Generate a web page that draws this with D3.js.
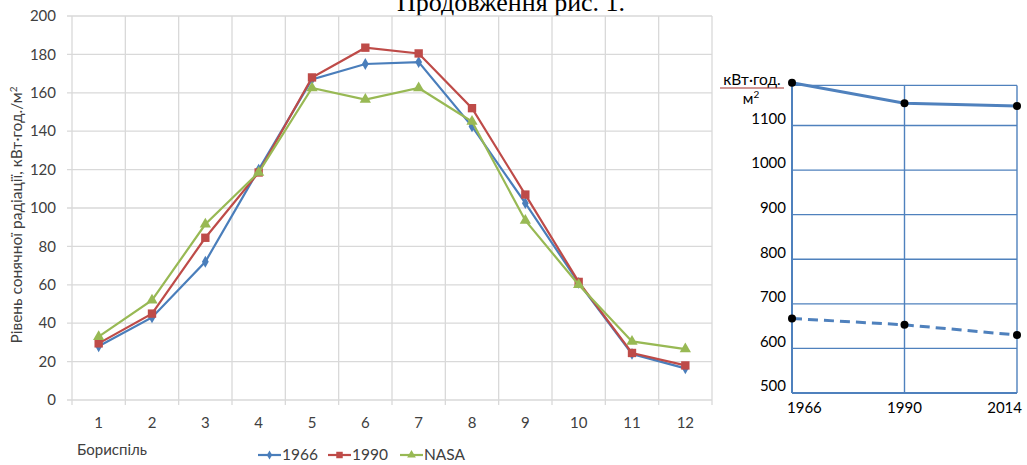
<!DOCTYPE html>
<html>
<head>
<meta charset="utf-8">
<script src="https://cdn.jsdelivr.net/npm/d3@7"></script>
<style>
  body { margin: 0; background: #fff; }
  svg { display: block; }
  text { font-family: Lato, "Open Sans", sans-serif; }
</style>
</head>
<body>
<div id="chart"></div>
<script>
// Monthly data (left chart)
const months = [1, 2, 3, 4, 5, 6, 7, 8, 9, 10, 11, 12];
const s1966 = [28, 43, 72, 120, 167, 175, 176, 142.5, 102.5, 61, 24, 16.5];
const s1990 = [29.5, 45, 84.5, 118.5, 168, 183.5, 180.5, 152, 107, 61.5, 24.5, 18];
const sNasa = [33, 52, 91.5, 118.5, 162.5, 156.5, 162.5, 145, 93.5, 60, 30.5, 26.5];
const yTicksLeft = [0, 20, 40, 60, 80, 100, 120, 140, 160, 180, 200];

// Yearly totals (right chart)
const years = [1966, 1990, 2014];
const totalSolid = [1196, 1150, 1144];
const totalDashed = [667, 653, 630];
const yTicksRight = [500, 600, 700, 800, 900, 1000, 1100];

const W = 1027, H = 465;
const svg = d3.select("#chart").append("svg")
    .attr("width", W)
    .attr("height", H);

// Title (cut at the top, as in the scan)
svg.append("text")
    .attr("x", 511).attr("y", 11)
    .attr("text-anchor", "middle")
    .style("font-family", "'Liberation Serif', serif")
    .style("font-size", "26px")
    .attr("fill", "#000")
    .text("Продовження рис. 1.");

// ---------- left chart ----------
const x = d3.scaleBand().domain(months).range([72, 712]).padding(0);
const y = d3.scaleLinear().domain([0, 200]).range([400, 16]);
const grid = "#d9d9d9";
const txt = "#404040";

const left = svg.append("g");

// horizontal gridlines
left.selectAll(".hg").data(yTicksLeft).join("line")
    .attr("x1", 67).attr("x2", 712)
    .attr("y1", d => y(d)).attr("y2", d => y(d))
    .attr("stroke", grid).attr("stroke-width", 1.3);

// vertical gridlines at category boundaries
const bounds = months.map(m => x(m)).concat([x(12) + x.bandwidth()]);
left.selectAll(".vg").data(bounds).join("line")
    .attr("x1", d => d).attr("x2", d => d)
    .attr("y1", 16).attr("y2", 405)
    .attr("stroke", grid).attr("stroke-width", 1.3);

// y tick labels
left.selectAll(".yl").data(yTicksLeft).join("text")
    .attr("x", 56).attr("y", d => y(d))
    .attr("dy", "0.35em")
    .attr("text-anchor", "end")
    .attr("fill", txt)
    .style("font-size", "15px")
    .text(d => d);

// x tick labels
left.selectAll(".xl").data(months).join("text")
    .attr("x", d => x(d) + x.bandwidth() / 2).attr("y", 423)
    .attr("dy", "0.35em")
    .attr("text-anchor", "middle")
    .attr("fill", txt)
    .style("font-size", "15px")
    .text(d => d);

// y axis title
left.append("text")
    .attr("transform", "translate(22,215) rotate(-90)")
    .attr("text-anchor", "middle")
    .attr("fill", txt)
    .style("font-size", "15.5px")
    .html("Рівень сонячної радіації, кВт·год./м<tspan dy='-5' style='font-size:10px'>2</tspan>");

left.append("text")
    .attr("x", 77).attr("y", 450)
    .attr("dy", "0.35em")
    .attr("fill", txt)
    .style("font-size", "15px")
    .text("Бориспіль");

const series = [
    { name: "1966", values: s1966, color: "#4a7ebb", shape: d3.symbolDiamond, size: 40 },
    { name: "1990", values: s1990, color: "#be4b48", shape: d3.symbolSquare, size: 70 },
    { name: "NASA", values: sNasa, color: "#98b954", shape: d3.symbolTriangle, size: 55 }
];

const line = d3.line()
    .x((d, i) => x(months[i]) + x.bandwidth() / 2)
    .y(d => y(d));

series.forEach(s => {
    left.append("path")
        .datum(s.values)
        .attr("fill", "none")
        .attr("stroke", s.color)
        .attr("stroke-width", 2.2)
        .attr("d", line);
    left.selectAll(null).data(s.values).join("path")
        .attr("transform", (d, i) => `translate(${x(months[i]) + x.bandwidth() / 2},${y(d)})`)
        .attr("d", d3.symbol().type(s.shape).size(s.size))
        .attr("fill", s.color);
});

// legend
const legX = [258, 328, 400];
series.forEach((s, i) => {
    const g = left.append("g").attr("transform", `translate(${legX[i]},455)`);
    g.append("line").attr("x1", 0).attr("x2", 23).attr("stroke", s.color).attr("stroke-width", 2.2);
    g.append("path").attr("transform", "translate(11.5,0)")
        .attr("d", d3.symbol().type(s.shape).size(s.size * 0.6))
        .attr("fill", s.color);
    g.append("text").attr("x", 24).attr("dy", "0.35em")
        .attr("fill", txt)
        .style("font-size", "15.5px")
        .text(s.name);
});

// ---------- right chart ----------
const blue = "#4f81bd";
const x2 = d3.scaleLinear().domain([1966, 2014]).range([792, 1017]);
const y2 = d3.scaleLinear().domain([500, 1100]).range([393, 125.5]);
const yTop = 1190;

const right = svg.append("g");

right.selectAll(".hg").data(yTicksRight.concat([yTop])).join("line")
    .attr("x1", x2(1966)).attr("x2", x2(2014))
    .attr("y1", d => y2(d)).attr("y2", d => y2(d))
    .attr("stroke", blue).attr("stroke-width", d => d === 500 ? 2 : 1.4);

right.selectAll(".vg").data(years).join("line")
    .attr("x1", d => x2(d)).attr("x2", d => x2(d))
    .attr("y1", y2(yTop)).attr("y2", y2(500))
    .attr("stroke", blue).attr("stroke-width", d => d === 1966 ? 2 : 1.4);

right.selectAll(".yl").data(yTicksRight).join("text")
    .attr("x", 786).attr("y", d => y2(d) - 7)
    .attr("dy", "0.35em")
    .attr("text-anchor", "end")
    .attr("fill", "#000")
    .style("font-size", "15px")
    .text(d => d);

const anchors = ["start", "middle", "end"];
right.selectAll(".xl").data(years).join("text")
    .attr("x", (d, i) => x2(d) + (i === 0 ? -5 : i === 2 ? 5 : 0)).attr("y", 408)
    .attr("dy", "0.35em")
    .attr("text-anchor", (d, i) => anchors[i])
    .attr("fill", "#000")
    .style("font-size", "15px")
    .text(d => d);

// unit label
right.append("text")
    .attr("x", 752).attr("y", 85)
    .attr("text-anchor", "middle")
    .attr("fill", "#000")
    .style("font-size", "15.5px")
    .text("кВт·год.");
right.append("line")
    .attr("x1", 720).attr("x2", 784).attr("y1", 88).attr("y2", 88)
    .attr("stroke", "#a0302d").attr("stroke-width", 1.2);
right.append("text")
    .attr("x", 751).attr("y", 104)
    .attr("text-anchor", "middle")
    .attr("fill", "#000")
    .style("font-size", "15px")
    .html("м<tspan dy='-6' style='font-size:10px'>2</tspan>");

const line2 = d3.line()
    .x((d, i) => x2(years[i]))
    .y(d => y2(d));

right.append("path").datum(totalSolid)
    .attr("fill", "none").attr("stroke", blue).attr("stroke-width", 3)
    .attr("d", line2);
right.append("path").datum(totalDashed)
    .attr("fill", "none").attr("stroke", blue).attr("stroke-width", 3)
    .attr("stroke-dasharray", "10,6")
    .attr("d", line2);

[totalSolid, totalDashed].forEach(vals => {
    right.selectAll(null).data(vals).join("circle")
        .attr("cx", (d, i) => x2(years[i]))
        .attr("cy", d => y2(d))
        .attr("r", 4)
        .attr("fill", "#000");
});
</script>
</body>
</html>
